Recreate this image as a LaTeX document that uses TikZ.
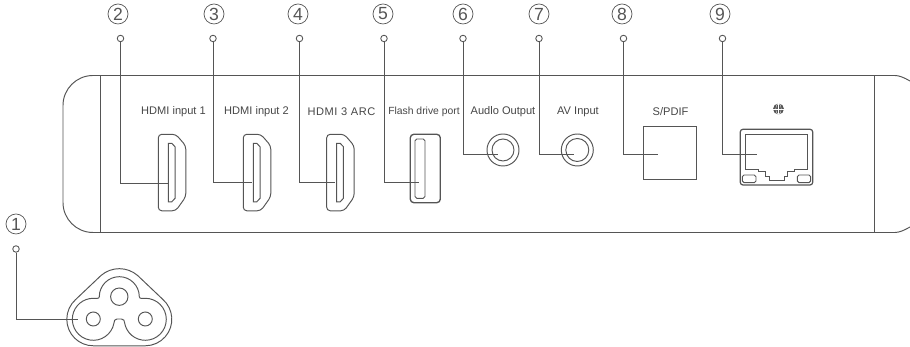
\documentclass[tikz,border=0pt]{standalone}
\usepackage{fontspec}
\setmainfont{Liberation Sans}
\usepackage{xcolor}
\definecolor{tvgray}{RGB}{85,85,85}
\definecolor{tvtext}{RGB}{70,70,70}
\usetikzlibrary{positioning,calc}
\tikzset{
  portline/.style={draw=tvgray, line width=0.55pt},
  numlabel/.style={circle, draw=tvgray, line width=0.4pt, minimum size=0.4cm, inner sep=0pt, font=\fontsize{10}{10}\selectfont, text=tvgray},
  leaddot/.style={circle, draw=tvgray, fill=white, line width=0.5pt, minimum size=0.13cm, inner sep=0pt},
  portlabel/.style={font=\fontsize{6.3}{7}\selectfont, text=tvtext},
  pics/hdmiport/.style={code={
    \draw[portline, rounded corners=2pt] (0,0) -- (0.35,0) -- (0.55,-0.23) -- (0.55,-1.25) -- (0.35,-1.53) -- (0,-1.53) -- cycle;
    \draw[portline] (0.2,-0.18) -- (0.27,-0.18) -- (0.335,-0.25) -- (0.335,-1.28) -- (0.27,-1.35) -- (0.2,-1.35) -- cycle;
  }}
}
\begin{document}
\begin{tikzpicture}
  \useasboundingbox (0,0) rectangle (18.2,6.94);

  %--- Back panel ---
  \draw[portline] (18.2,5.32) .. controls (18.08,5.39) and (17.98,5.43) .. (17.9,5.43) -- (1.86,5.43) arc[start angle=90, end angle=180, radius=0.6] -- (1.26,2.89) arc[start angle=180, end angle=270, radius=0.6] -- (17.9,2.29) .. controls (17.98,2.29) and (18.08,2.33) .. (18.2,2.40);
  \draw[portline] (2.0,5.43) -- (2.0,2.29);
  \draw[portline] (17.48,5.43) -- (17.48,2.29);

  %--- Port labels ---
  \node[portlabel] (lblhdmia) at (3.47,4.71) {HDMI input 1};
  \node[portlabel] (lblhdmib) at (5.13,4.71) {HDMI input 2};
  \node[portlabel, font=\fontsize{6.3}{7}\selectfont\addfontfeature{LetterSpace=5}] (lblhdmic) at (6.83,4.71) {HDMI 3 ARC};
  \node[portlabel, font=\fontsize{5.9}{7}\selectfont] (lblusb) at (8.48,4.71) {Flash drive port};
  \node[portlabel] (lblaudio) at (10.06,4.71) {Audlo Output};
  \node[portlabel] (lblav) at (11.56,4.71) {AV Input};
  \node[portlabel] (lblspdif) at (13.41,4.71) {S/PDIF};

  %--- HDMI ports ---
  \pic at (3.166,4.254) {hdmiport};
  \pic at (4.866,4.254) {hdmiport};
  \pic at (6.534,4.254) {hdmiport};

  %--- Flash drive port ---
  \draw[portline, line width=0.75pt, rounded corners=2pt] (8.206,4.254) rectangle (8.806,2.886);
  \draw[portline, rounded corners=1pt] (8.30,4.16) rectangle (8.50,2.974);

  %--- Audio and AV jacks ---
  \draw[portline] (10.06,3.94) circle (0.32);
  \draw[portline] (10.06,3.94) circle (0.22);
  \draw[portline] (11.546,3.94) circle (0.32);
  \draw[portline] (11.546,3.94) circle (0.23);

  %--- S/PDIF ---
  \draw[portline] (12.866,4.42) rectangle (13.92,3.36);

  %--- Network port ---
  \fill[tvgray] (15.57,4.76) circle (0.11);
  \draw[white, line width=0.2pt] (15.46,4.76) -- (15.68,4.76);
  \draw[white, line width=0.2pt] (15.57,4.65) -- (15.57,4.87);
  \draw[white, line width=0.2pt] (15.57,4.76) ellipse (0.055 and 0.11);
  \draw[portline, line width=0.7pt, rounded corners=1.5pt] (14.806,4.354) rectangle (16.254,3.24);
  \draw[portline] (14.914,4.26) -- (16.146,4.26) -- (16.146,3.56) -- (15.894,3.56) -- (15.894,3.506) -- (15.746,3.506) -- (15.746,3.42) -- (15.68,3.42) -- (15.68,3.326) -- (15.38,3.326) -- (15.38,3.42) -- (15.314,3.42) -- (15.314,3.506) -- (15.166,3.506) -- (15.166,3.56) -- (14.914,3.56) -- cycle;
  \draw[portline, rounded corners=1pt] (14.846,3.44) rectangle (15.12,3.286);
  \draw[portline, rounded corners=1pt] (15.946,3.44) rectangle (16.214,3.286);

  %--- Power inlet ---
  \draw[portline] (1.518,0.954) -- (2.019,1.429) arc[start angle=131, end angle=49, radius=0.56] -- (3.254,0.954) arc[start angle=49, end angle=-90, radius=0.53] -- (1.866,0.024) arc[start angle=-90, end angle=-229, radius=0.53] -- cycle;
  \draw[portline] (1.866,0.974) to[out=0, in=-90] (1.986,1.006) arc[start angle=180, end angle=0, radius=0.4] to[out=-90, in=180] (2.906,0.974) arc[start angle=90, end angle=-170, radius=0.42] to[out=80, in=0] (2.43,0.56) -- (2.34,0.56) to[out=180, in=100] (2.28,0.481) arc[start angle=-10, end angle=-270, radius=0.42];
  \draw[portline] (2.386,1.006) circle (0.174);
  \draw[portline] (1.866,0.56) circle (0.14);
  \draw[portline] (2.906,0.56) circle (0.14);

  %--- Numbers ---
  \node[numlabel] (numa) at (0.32,2.46) {1};
  \node[numlabel] (numb) at (2.36,6.66) {2};
  \node[numlabel] (numc) at (4.28,6.66) {3};
  \node[numlabel] (numd) at (5.96,6.66) {4};
  \node[numlabel] (nume) at (7.66,6.66) {5};
  \node[numlabel] (numf) at (9.26,6.66) {6};
  \node[numlabel] (numg) at (10.78,6.66) {7};
  \node[numlabel] (numh) at (12.44,6.66) {8};
  \node[numlabel] (numi) at (14.40,6.66) {9};

  %--- Leader lines ---
  \node[leaddot] (dota) at (0.32,1.96) {};
  \node[leaddot] (dotb) at (2.41,6.17) {};
  \node[leaddot] (dotc) at (4.26,6.17) {};
  \node[leaddot] (dotd) at (5.99,6.17) {};
  \node[leaddot] (dote) at (7.68,6.17) {};
  \node[leaddot] (dotf) at (9.26,6.17) {};
  \node[leaddot] (dotg) at (10.78,6.17) {};
  \node[leaddot] (doth) at (12.47,6.17) {};
  \node[leaddot] (doti) at (14.45,6.17) {};

  \coordinate (enda) at (1.56,0.56);
  \coordinate (endb) at (3.36,3.28);
  \coordinate (endc) at (5.04,3.30);
  \coordinate (endd) at (6.70,3.30);
  \coordinate (ende) at (8.38,3.30);
  \coordinate (endf) at (9.96,3.86);
  \coordinate (endg) at (11.48,3.86);
  \coordinate (endh) at (13.16,3.86);
  \coordinate (endi) at (15.14,3.86);

  \draw[portline] (dota) |- (enda);
  \draw[portline] (dotb) |- (endb);
  \draw[portline] (dotc) |- (endc);
  \draw[portline] (dotd) |- (endd);
  \draw[portline] (dote) |- (ende);
  \draw[portline] (dotf) |- (endf);
  \draw[portline] (dotg) |- (endg);
  \draw[portline] (doth) |- (endh);
  \draw[portline] (doti) |- (endi);
\end{tikzpicture}
\end{document}
